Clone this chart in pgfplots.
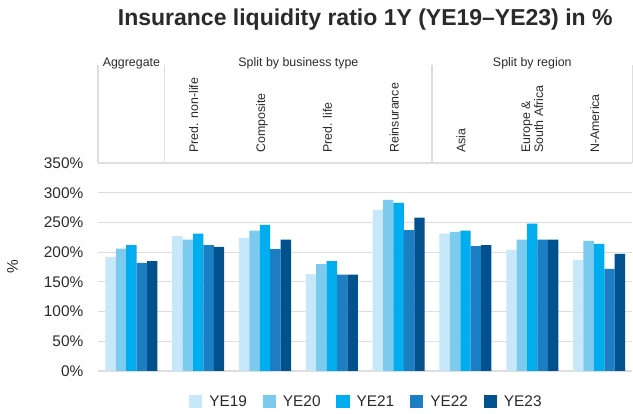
\documentclass[border=0pt]{standalone}
\usepackage{pgfplots}
\pgfplotsset{compat=1.18}
\usepackage{pgfplotstable}
\usepackage{fontspec}
\setmainfont{Liberation Sans}
\definecolor{cA}{HTML}{C7E8F8}
\definecolor{cB}{HTML}{7CCBEE}
\definecolor{cC}{HTML}{00ADEE}
\definecolor{cD}{HTML}{1C7FC4}
\definecolor{cE}{HTML}{01518F}
\definecolor{gridc}{HTML}{DEDEDE}
\definecolor{txt}{HTML}{2A2A2A}
\newcommand\hdr{\fontsize{12.4}{13}\selectfont}
\pgfplotstableread{
x y19 y20 y21 y22 y23
0 192 206 212 182 185
1 227 221 231 212 209
2 224 236 246 205 221
3 163 180 185 162 162
4 271 288 283 237 258
5 231 234 236 210 212
6 204 221 248 221 221
7 187 219 214 172 197
}\data
\pgfplotsset{sqleg/.style={legend image code/.code={\fill[##1] (0pt,-6.7pt) rectangle (13.4pt,6.7pt);}}}
\begin{document}
\begin{tikzpicture}
\useasboundingbox (0,0) rectangle (633pt,414pt);
\begin{axis}[
 at={(98pt,43pt)}, anchor=south west,
 scale only axis, width=534.5pt, height=208pt,
 xmin=-0.5, xmax=7.5, ymin=0, ymax=350,
 ybar=0pt, bar width=10.4pt,
 ytick={0,50,...,350},
 yticklabels={0\%,50\%,100\%,150\%,200\%,250\%,300\%,350\%},
 xtick=\empty,
 minor xtick={-0.5,0.5,...,7.5},
 ymajorgrids, xminorgrids,
 major grid style={draw=gridc, line width=1.2pt},
 minor grid style={draw=gridc, line width=1.2pt},
 axis line style={draw=none},
 major tick length=0pt, minor tick length=0pt,
 yticklabel style={inner sep=0pt, xshift=-14.5pt, font=\fontsize{15.4}{18}\selectfont, text=txt},
 clip=false,
 title={Insurance liquidity ratio 1Y (YE19–YE23) in \%},
 title style={at={(0.5,1)}, anchor=base, yshift=131.3pt, font=\bfseries\fontsize{23}{27}\selectfont, text=txt},
 legend columns=5,
 legend style={at={(0.5,-0.1466)}, anchor=center, draw=none, fill=none,
   font=\fontsize{15.4}{18}\selectfont, text=txt,
   nodes={inner xsep=0pt},
   /tikz/every odd column/.append style={column sep=7pt},
   /tikz/every even column/.append style={column sep=15.6pt}},
 legend cell align=left,
]
\addplot[fill=cA, draw=none, sqleg] table[x=x,y=y19]{\data};
\addplot[fill=cB, draw=none, sqleg] table[x=x,y=y20]{\data};
\addplot[fill=cC, draw=none, sqleg] table[x=x,y=y21]{\data};
\addplot[fill=cD, draw=none, sqleg] table[x=x,y=y22]{\data};
\addplot[fill=cE, draw=none, sqleg] table[x=x,y=y23]{\data};
\legend{YE19,YE20,YE21,YE22,YE23}
% header lines
\draw[gridc, line width=1.2pt] (axis cs:-0.5,350) -- (axis cs:-0.5,515);
\draw[gridc, line width=1.2pt] (axis cs:0.5,350) -- (axis cs:0.5,515);
\draw[gridc, line width=1.2pt] (axis cs:4.5,350) -- (axis cs:4.5,515);
\draw[gridc, line width=1.2pt] (axis cs:7.5,350) -- (axis cs:7.5,515);
% group labels
\node[anchor=base, font=\hdr, text=txt] at (axis cs:0,513) {Aggregate};
\node[anchor=base, font=\hdr, text=txt] at (axis cs:2.5,513) {Split by business type};
\node[anchor=base, font=\hdr, text=txt] at (axis cs:6,513) {Split by region};
% category labels
\node[rotate=90, anchor=base west, inner sep=0pt, font=\hdr, text=txt] at (axis cs:1,367) {Pred. non-life};
\node[rotate=90, anchor=base west, inner sep=0pt, font=\hdr, text=txt] at (axis cs:2,367) {Composite};
\node[rotate=90, anchor=base west, inner sep=0pt, font=\hdr, text=txt] at (axis cs:3,367) {Pred. life};
\node[rotate=90, anchor=base west, inner sep=0pt, font=\hdr, text=txt] at (axis cs:4,367) {Reinsurance};
\node[rotate=90, anchor=base west, inner sep=0pt, font=\hdr, text=txt] at (axis cs:5,367) {Asia};
\node[rotate=90, anchor=west, inner sep=0pt, font=\hdr, text=txt, align=left] at (axis cs:6,367) {Europe \&\\South Africa};
\node[rotate=90, anchor=base west, inner sep=0pt, font=\hdr, text=txt] at (axis cs:7,367) {N-America};
% y label
\node[xshift=-85.3pt, rotate=90, anchor=center, font=\fontsize{15.4}{18}\selectfont, text=txt] at (axis description cs:0,0.5) {\%};
\end{axis}
\end{tikzpicture}
\end{document}
